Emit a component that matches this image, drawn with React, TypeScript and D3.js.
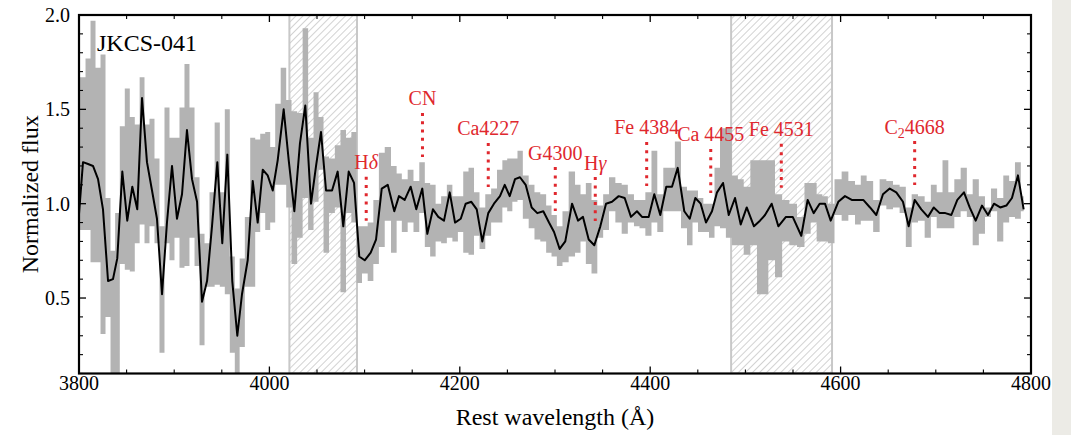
import React from "react";
import * as d3 from "d3";

// ---- data (rest wavelength in Å, normalized flux and its gray envelope) ----
const wavelength = [
  3799.0, 3804.2, 3809.5, 3814.7, 3820.0, 3825.2, 3830.5, 3835.7, 3840.2, 3845.5, 3850.7, 3856.0, 3861.2, 3866.2, 3871.4, 3876.7, 3881.9, 3887.2, 3892.4, 3897.7, 3902.9, 3908.2, 3913.4, 3918.7, 3924.0, 3929.2, 3934.5, 3939.7, 3945.3, 3950.5, 3955.8, 3961.0, 3966.3,
  3971.2, 3977.2, 3982.5, 3987.7, 3993.0, 3998.2, 4003.5, 4008.7, 4015.0, 4020.3, 4026.2, 4032.1, 4037.7, 4043.7, 4049.0, 4054.2, 4059.5, 4065.8, 4071.7, 4077.6, 4083.3, 4088.9, 4094.4, 4100.1, 4106.4, 4112.0, 4118.0, 4124.3, 4131.2,
  4136.1, 4142.1, 4148.4, 4154.3, 4160.6, 4165.9, 4171.8, 4177.4, 4183.4, 4189.4, 4195.0, 4201.0, 4206.2, 4212.1, 4217.8, 4223.6, 4229.9, 4235.9, 4242.2, 4247.2, 4252.4, 4258.0, 4263.2, 4269.2, 4275.5, 4281.4, 4287.7, 4293.7, 4299.0,
  4304.9, 4310.8, 4317.9, 4324.2, 4329.4, 4335.4, 4341.3, 4347.6, 4353.6, 4359.9, 4366.9, 4373.2, 4379.8, 4386.1, 4391.4, 4398.4, 4404.3, 4410.6, 4416.9, 4422.9, 4428.9, 4435.8, 4441.5, 4447.4, 4453.0, 4458.6, 4464.9,
  4470.2, 4476.5, 4482.5, 4489.1, 4495.1, 4501.4, 4509.0, 4515.3, 4520.6, 4527.6, 4534.6, 4542.6, 4549.7, 4558.7, 4565.4, 4571.7, 4578.0, 4583.6, 4589.6, 4597.6, 4604.6, 4611.7, 4618.6, 4623.8, 4630.9,
  4637.5, 4644.5, 4651.6, 4658.5, 4665.5, 4671.5, 4677.8, 4684.8, 4691.8, 4697.8, 4704.1, 4710.0, 4716.3, 4722.6, 4729.6, 4735.6, 4741.9, 4748.5, 4754.8, 4761.1, 4767.7, 4774.1, 4780.0, 4786.3, 4792.3,
];

const flux = [
  0.88, 1.22, 1.21, 1.20, 1.13, 0.97, 0.59, 0.60, 0.71, 1.17, 0.91, 1.09, 0.97, 1.56, 1.22, 1.07, 0.92, 0.52, 0.90, 1.20, 0.92, 1.05, 1.39, 1.13, 1.01, 0.48, 0.59, 0.88, 1.22, 0.79, 1.26, 0.59, 0.30,
  0.52, 0.70, 1.12, 0.90, 1.18, 1.15, 1.07, 1.23, 1.50, 1.23, 0.96, 1.32, 1.52, 1.00, 1.20, 1.38, 1.07, 1.07, 1.17, 0.88, 1.17, 1.11, 0.72, 0.70, 0.74, 0.81, 1.08, 1.10, 0.96,
  1.04, 1.02, 1.09, 0.97, 1.08, 0.84, 0.97, 0.93, 0.91, 1.06, 0.90, 0.92, 1.00, 1.01, 0.97, 0.80, 0.95, 1.00, 1.04, 1.10, 1.04, 1.13, 1.14, 1.10, 0.98, 0.95, 0.96, 0.90, 0.85,
  0.76, 0.80, 1.00, 0.91, 0.93, 0.81, 0.78, 0.88, 1.00, 1.01, 1.04, 1.03, 0.93, 0.96, 0.93, 0.93, 1.05, 0.94, 1.09, 1.09, 1.19, 0.96, 0.92, 1.03, 1.00, 0.90, 0.96,
  1.06, 1.11, 0.94, 1.03, 0.89, 0.98, 0.88, 0.91, 0.94, 1.00, 0.88, 0.93, 0.93, 0.83, 1.02, 0.95, 1.00, 1.00, 0.91, 1.01, 1.04, 1.02, 1.02, 1.02, 0.98,
  0.94, 1.05, 1.08, 1.06, 1.01, 0.88, 1.02, 0.97, 0.93, 0.98, 0.95, 0.95, 0.94, 1.02, 1.06, 0.98, 0.91, 0.99, 0.94, 1.00, 0.98, 0.99, 1.03, 1.15, 0.97,
];

const fluxUpper = [
  1.67, 1.67, 1.77, 1.97, 1.72, 1.79, 1.03, 0.75, 0.95, 1.41, 1.61, 1.46, 1.42, 1.67, 1.42, 1.45, 1.24, 0.88, 1.51, 1.35, 1.35, 1.51, 1.74, 1.51, 1.14, 0.84, 0.79, 1.06, 1.43, 1.06, 1.50, 0.72, 0.55,
  0.71, 0.93, 1.35, 1.34, 1.37, 1.38, 1.30, 1.53, 1.72, 1.55, 1.49, 1.48, 1.93, 1.35, 1.59, 1.46, 1.25, 1.24, 1.31, 1.39, 1.35, 1.38, 0.88, 0.88, 0.90, 1.02, 1.27, 1.30, 1.20,
  1.16, 1.13, 1.18, 1.12, 1.22, 1.11, 1.10, 1.00, 1.04, 1.10, 1.04, 1.04, 1.17, 1.19, 1.06, 0.98, 1.05, 1.08, 1.18, 1.23, 1.24, 1.24, 1.28, 1.15, 1.10, 1.06, 1.05, 0.99, 0.94,
  0.88, 0.96, 1.17, 1.10, 1.05, 1.11, 1.02, 0.99, 1.05, 1.14, 1.11, 1.10, 1.05, 1.02, 1.02, 1.06, 1.28, 1.05, 1.19, 1.19, 1.33, 1.09, 1.07, 1.07, 1.03, 1.00, 1.00,
  1.19, 1.40, 1.40, 1.15, 1.13, 1.09, 1.23, 1.23, 1.23, 1.23, 1.05, 1.02, 1.00, 0.93, 1.11, 1.11, 1.05, 1.04, 1.00, 1.13, 1.17, 1.12, 1.10, 1.15, 1.12,
  1.02, 1.13, 1.12, 1.10, 1.09, 0.98, 1.05, 1.04, 1.01, 1.10, 1.06, 1.23, 1.06, 1.13, 1.19, 1.05, 1.13, 1.04, 0.98, 1.08, 1.03, 1.15, 1.12, 1.22, 1.04,
];

const fluxLower = [
  0.86, 0.86, 0.86, 0.69, 0.69, 0.31, 0.40, 0.10, 0.10, 0.68, 0.65, 0.64, 0.79, 0.89, 0.79, 0.88, 0.79, 0.21, 0.79, 0.70, 0.82, 0.66, 0.67, 0.82, 0.67, 0.25, 0.56, 0.56, 0.57, 0.56, 0.52, 0.21, 0.10,
  0.24, 0.56, 0.56, 0.85, 0.95, 0.86, 0.90, 1.10, 1.10, 0.98, 0.68, 0.82, 1.03, 0.86, 1.01, 1.18, 0.74, 0.95, 0.98, 0.53, 0.95, 0.90, 0.58, 0.63, 0.59, 0.68, 0.77, 0.91, 0.74,
  0.91, 0.85, 0.90, 0.85, 0.95, 0.77, 0.72, 0.80, 0.79, 0.82, 0.80, 0.85, 0.74, 0.73, 0.83, 0.76, 0.83, 0.90, 0.90, 0.98, 0.96, 1.01, 1.02, 0.92, 0.87, 0.81, 0.80, 0.74, 0.72,
  0.67, 0.69, 0.72, 0.74, 0.80, 0.68, 0.63, 0.82, 0.86, 0.96, 0.90, 0.84, 0.90, 0.88, 0.87, 0.83, 0.90, 0.85, 0.96, 0.96, 0.96, 0.87, 0.78, 0.90, 0.85, 0.85, 0.82,
  0.88, 0.87, 0.82, 0.78, 0.78, 0.73, 0.78, 0.52, 0.52, 0.70, 0.61, 0.80, 0.78, 0.77, 0.84, 0.90, 0.80, 0.80, 0.79, 0.94, 0.91, 0.94, 0.89, 0.91, 0.91,
  0.85, 0.99, 0.97, 0.98, 0.95, 0.77, 0.90, 0.91, 0.82, 0.93, 0.87, 0.87, 0.87, 0.93, 0.96, 0.93, 0.78, 0.84, 0.93, 0.96, 0.80, 0.90, 0.93, 0.92, 0.96,
];

// masked (hatched) wavelength windows
const maskStart = [4021, 4485];
const maskEnd = [4092, 4591];

// spectral feature markers
const featureNames = ["Hδ", "CN", "Ca4227", "G4300", "Hγ", "Fe 4384", "Ca 4455", "Fe 4531", "C₂4668"];
const featureWave = [4101.7, 4160.8, 4229.9, 4300.3, 4342.3, 4396.3, 4463.6, 4537.7, 4677.8];
const featureTop = [1.143, 1.481, 1.322, 1.194, 1.141, 1.327, 1.29, 1.317, 1.332];

const xTickLabels = [3800, 4000, 4200, 4400, 4600, 4800];
const yTickLabels = [0.5, 1.0, 1.5, 2.0];

const title = "JKCS-041";

// ---- layout ----
const W = 1071;
const H = 435;
const PL = 79, PR = 1031, PT = 15, PB = 373.5;
const SERIF = "'Liberation Serif', 'Times New Roman', Times, serif";
const RED = "#e0282e";
const GRAY = "#b3b3b3";

function FeatureLabel({ name, x, y }: { name: string; x: number; y: number }) {
  let parts: React.ReactNode;
  if (name === "Hδ" || name === "Hγ") {
    parts = (
      <>
        <tspan>H</tspan>
        <tspan fontStyle="italic">{name.slice(1)}</tspan>
      </>
    );
  } else if (name.startsWith("C₂")) {
    parts = (
      <>
        <tspan>C</tspan>
        <tspan fontSize="14" dy="4">2</tspan>
        <tspan dy="-4">{name.slice(2)}</tspan>
      </>
    );
  } else {
    parts = name;
  }
  return (
    <text x={x} y={y} textAnchor="middle" fontFamily={SERIF} fontSize={20} fill={RED}>
      {parts}
    </text>
  );
}

export default function App() {
  const x = d3.scaleLinear().domain([3800, 4800]).range([PL, PR]);
  const y = d3.scaleLinear().domain([0.1, 2.0]).range([PB, PT]);

  const data = wavelength.map((w, i) => ({ w, f: flux[i], hi: fluxUpper[i], lo: fluxLower[i] }));

  const band = d3
    .area<any>()
    .x((d) => x(d.w))
    .y0((d) => y(d.lo))
    .y1((d) => y(d.hi))
    .curve(d3.curveStep)(data) as string;

  const line = d3
    .line<any>()
    .x((d) => x(d.w))
    .y((d) => y(d.f))(data) as string;

  const xMinor = d3.range(3800, 4801, 50).filter((v) => v % 200 !== 0);
  const yMinor = d3.range(1, 21).map((k) => k / 10).filter((v) => Math.abs(v * 2 - Math.round(v * 2)) > 1e-6);

  const MAJ = 7, MIN = 4;

  return (
    <svg width={W} height={H} style={{ position: "absolute", left: 0, top: 0, background: "#fff" }}>
      <defs>
        <clipPath id="plotClip">
          <rect x={PL} y={PT} width={PR - PL} height={PB - PT} />
        </clipPath>
        <pattern id="hatch" patternUnits="userSpaceOnUse" width="5" height="5" patternTransform="rotate(45)">
          <line x1="0" y1="0" x2="0" y2="5" stroke="#c6c6c6" strokeWidth="1.6" />
        </pattern>
      </defs>

      <rect x={1052} y={0} width={W - 1052} height={H} fill="#ecebe6" />

      <g clipPath="url(#plotClip)">
        {maskStart.map((s, i) => (
          <rect
            key={i}
            x={x(s)}
            y={PT}
            width={x(maskEnd[i]) - x(s)}
            height={PB - PT}
            fill="url(#hatch)"
            stroke="#c8c8c8"
            strokeWidth={2}
          />
        ))}
        <path d={band} fill={GRAY} />
        <path d={line} fill="none" stroke="#000" strokeWidth={2} strokeLinejoin="round" />
      </g>

      {featureNames.map((n, i) => {
        const xx = x(featureWave[i]);
        const top = y(featureTop[i]);
        return (
          <g key={n}>
            <line x1={xx} x2={xx} y1={top} y2={top + 44} stroke={RED} strokeWidth={3} strokeDasharray="3 5.3" />
            <FeatureLabel name={n} x={xx} y={top - 7.5} />
          </g>
        );
      })}

      {/* frame */}
      <rect x={PL} y={PT} width={PR - PL} height={PB - PT} fill="none" stroke="#000" strokeWidth={2.2} />

      {/* x ticks */}
      {xTickLabels.map((v) => (
        <g key={"xm" + v}>
          <line x1={x(v)} x2={x(v)} y1={PB} y2={PB - MAJ} stroke="#000" strokeWidth={1.3} />
          <line x1={x(v)} x2={x(v)} y1={PT} y2={PT + MAJ} stroke="#000" strokeWidth={1.3} />
          <text x={x(v)} y={390} textAnchor="middle" fontFamily={SERIF} fontSize={20} fill="#000">
            {v}
          </text>
        </g>
      ))}
      {xMinor.map((v) => (
        <g key={"xn" + v}>
          <line x1={x(v)} x2={x(v)} y1={PB} y2={PB - MIN} stroke="#000" strokeWidth={1.1} />
          <line x1={x(v)} x2={x(v)} y1={PT} y2={PT + MIN} stroke="#000" strokeWidth={1.1} />
        </g>
      ))}

      {/* y ticks */}
      {yTickLabels.map((v) => (
        <g key={"ym" + v}>
          <line x1={PL} x2={PL + MAJ} y1={y(v)} y2={y(v)} stroke="#000" strokeWidth={1.3} />
          <line x1={PR} x2={PR - MAJ} y1={y(v)} y2={y(v)} stroke="#000" strokeWidth={1.3} />
          <text x={70} y={y(v) + 7} textAnchor="end" fontFamily={SERIF} fontSize={20} fill="#000">
            {v.toFixed(1)}
          </text>
        </g>
      ))}
      {yMinor.map((v) => (
        <g key={"yn" + v}>
          <line x1={PL} x2={PL + MIN} y1={y(v)} y2={y(v)} stroke="#000" strokeWidth={1.1} />
          <line x1={PR} x2={PR - MIN} y1={y(v)} y2={y(v)} stroke="#000" strokeWidth={1.1} />
        </g>
      ))}

      <text x={97} y={51} fontFamily={SERIF} fontSize={24} fill="#000">
        {title}
      </text>

      <text x={(PL + PR) / 2} y={425} textAnchor="middle" fontFamily={SERIF} fontSize={24} fill="#000">
        Rest wavelength (Å)
      </text>
      <text
        transform={`translate(38, ${(PT + PB) / 2}) rotate(-90)`}
        textAnchor="middle"
        fontFamily={SERIF}
        fontSize={24}
        fill="#000"
      >
        Normalized flux
      </text>
    </svg>
  );
}
